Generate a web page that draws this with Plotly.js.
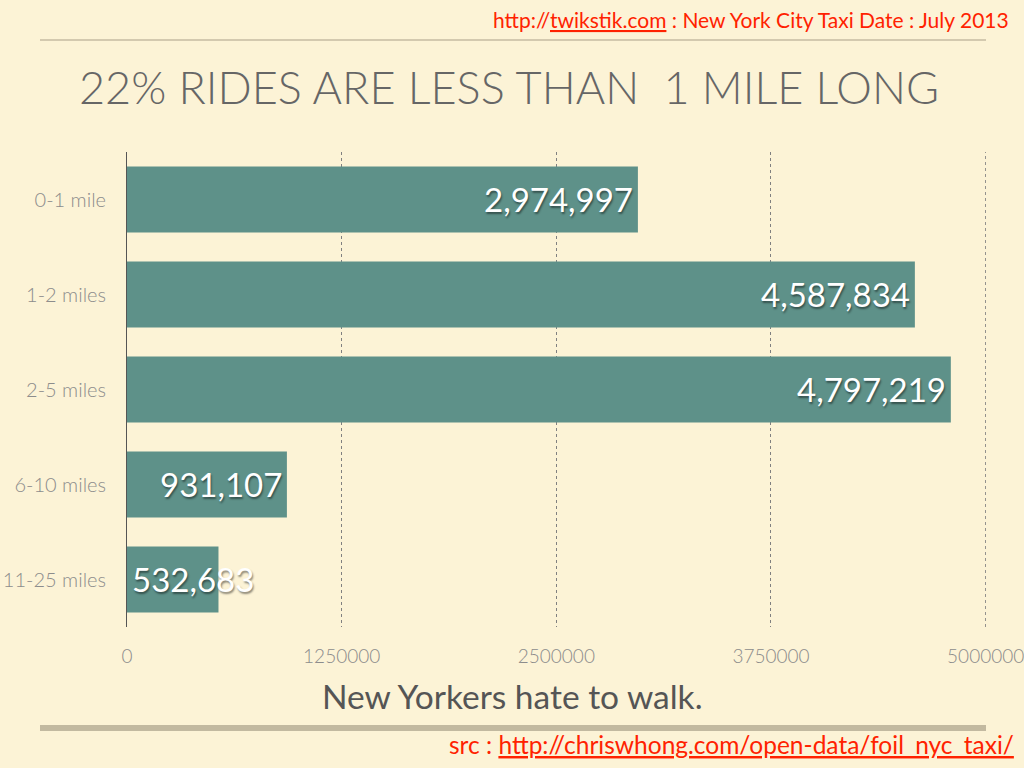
<!DOCTYPE html>
<html>
<head>
<meta charset="utf-8">
<script src="https://cdn.plot.ly/plotly-3.0.1.min.js"></script>
<style>
html,body{margin:0;padding:0;background:#fcf3d6;}
#chart{width:1024px;height:768px;}
</style>
</head>
<body>
<div id="chart"></div>
<script>
const categories = ["0-1 mile", "1-2 miles", "2-5 miles", "6-10 miles", "11-25 miles"];
const rides = [2974997, 4587834, 4797219, 931107, 532683];
const tickValues = [0, 1250000, 2500000, 3750000, 5000000];
const tickLabels = ["0", "1250000", "2500000", "3750000", "5000000"];
const titleText = "22% RIDES ARE LESS THAN  1 MILE LONG";
const xTitle = "New Yorkers hate to walk.";
const headerText = "http://<u>twikstik.com</u> : New York City Taxi Date : July 2013";
const sourceText = "src : <u>http://chriswhong.com/open-data/foil_nyc_taxi/</u>";

const FONT = "Lato, 'Open Sans', sans-serif";
const labels = rides.map(v => v.toLocaleString('en-US'));

const W = 1024, H = 768, L = 127, R = 38, T = 152, B = 141;
const PW = W - L - R, PH = H - T - B;
const px = x => (x - L) / PW;          // pixel x -> paper x
const py = y => (H - B - y) / PH;      // pixel y -> paper y

const trace = {
  type: 'bar',
  orientation: 'h',
  y: categories,
  x: rides,
  marker: {color: '#5e9189'},
  hoverinfo: 'none',
  showlegend: false
};

// value labels: right-aligned at bar end, or left-aligned at 0 when the bar is too short
const annotations = rides.map((v, i) => {
  const short = v < 800000;
  return {
    x: short ? 0 : v, y: categories[i], xref: 'x', yref: 'y',
    text: labels[i], showarrow: false,
    xanchor: short ? 'left' : 'right', xshift: short ? 3 : -3, yshift: 1,
    font: {family: FONT, size: 33, color: '#ffffff', shadow: '1px 2px 2px rgba(0,0,0,0.45)'}
  };
});

annotations.push({
  xref: 'paper', yref: 'paper', x: px(1011), y: py(19),
  xanchor: 'right', yanchor: 'middle', showarrow: false,
  text: headerText,
  font: {family: FONT, size: 21, color: '#ff2200'}
});
annotations.push({
  xref: 'paper', yref: 'paper', x: px(1016), y: py(744),
  xanchor: 'right', yanchor: 'middle', showarrow: false,
  text: sourceText,
  font: {family: FONT, size: 24.5, color: '#ff2200'}
});
// x-axis title (centred on the slide, not on the plot area)
annotations.push({
  xref: 'paper', yref: 'paper', x: px(512), y: py(696),
  xanchor: 'center', yanchor: 'middle', showarrow: false,
  text: xTitle,
  font: {family: FONT, size: 33.5, color: '#555555'}
});

const layout = {
  width: W, height: H,
  paper_bgcolor: '#fcf3d6',
  plot_bgcolor: 'rgba(0,0,0,0)',
  margin: {l: L, r: R, t: T, b: B, pad: 0},
  title: {
    text: titleText,
    font: {family: FONT, size: 45, color: '#666666', weight: 300},
    x: 509 / W, xanchor: 'center', xref: 'container',
    y: 1 - 88 / H, yanchor: 'middle', yref: 'container'
  },
  bargap: 0.305,
  xaxis: {
    range: [0, 5002000],
    tickvals: tickValues, ticktext: tickLabels,
    tickfont: {family: FONT, size: 19, color: '#8c8c8c', weight: 300},
    ticks: '', ticklen: 0, ticklabelstandoff: 16, ticklabeloverflow: 'allow',
    showgrid: true, gridcolor: '#808080', griddash: 'dot', gridwidth: 1,
    zeroline: false, showline: false,
    fixedrange: true
  },
  yaxis: {
    autorange: 'reversed',
    tickfont: {family: FONT, size: 20, color: '#8c8c8c', weight: 300},
    ticks: '', showgrid: false, zeroline: false,
    showline: true, linecolor: '#555555', linewidth: 1,
    ticklabelstandoff: 16,
    fixedrange: true
  },
  annotations: annotations,
  shapes: [
    {type: 'line', xref: 'paper', yref: 'paper',
     x0: px(40), x1: px(986), y0: py(40), y1: py(40),
     line: {color: '#c6bba2', width: 1.5}},
    {type: 'line', xref: 'paper', yref: 'paper',
     x0: px(40), x1: px(986), y0: py(728), y1: py(728),
     line: {color: '#c2b9a0', width: 6}},
    // gridline at the last tick (Plotly skips it at the range edge)
    {type: 'line', xref: 'x', yref: 'paper', layer: 'below',
     x0: tickValues[tickValues.length - 1], x1: tickValues[tickValues.length - 1], y0: 0, y1: 1,
     line: {color: '#808080', width: 1, dash: 'dot'}}
  ]
};

Plotly.newPlot('chart', [trace], layout, {displayModeBar: false, staticPlot: true});
</script>
</body>
</html>
